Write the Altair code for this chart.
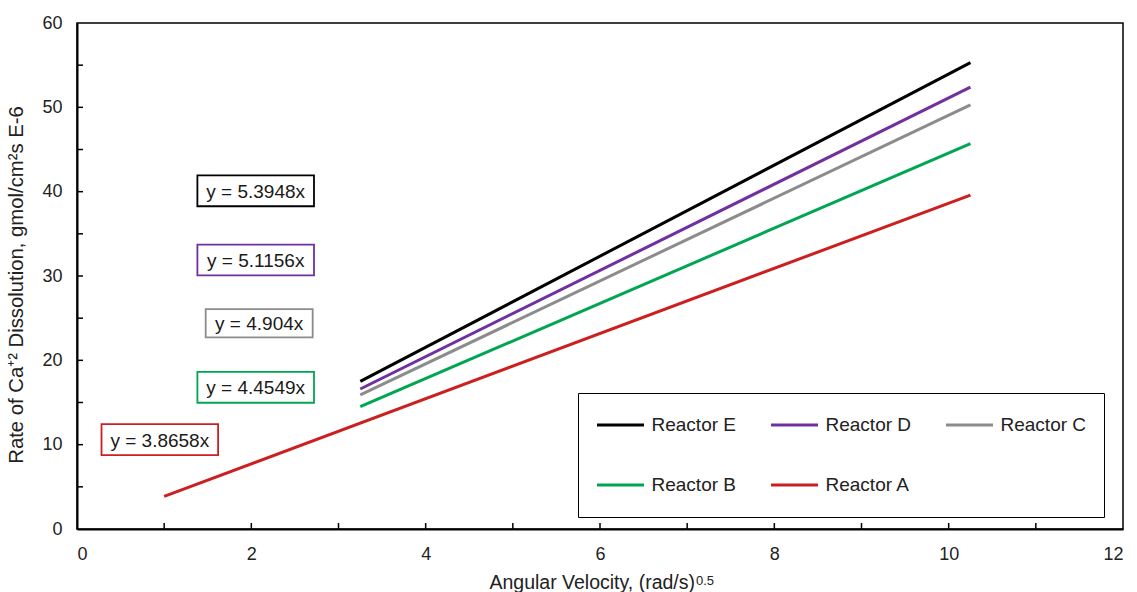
import altair as alt
import pandas as pd

FONT = "Liberation Sans"

# ---- data ----
reactors = ["Reactor E", "Reactor D", "Reactor C", "Reactor B", "Reactor A"]
colors = ["#000000", "#7030A0", "#8C8C8C", "#00A651", "#CC1F1F"]
x_start = [3.25, 3.25, 3.25, 3.25, 1.0]
x_end = [10.25, 10.25, 10.25, 10.25, 10.25]
y_start = [17.5, 16.6, 15.9, 14.5, 3.87]
y_end = [55.3, 52.4, 50.3, 45.7, 39.6]
equations = ["y = 5.3948x", "y = 5.1156x", "y = 4.904x", "y = 4.4549x", "y = 3.8658x"]
# anchor of each trendline-equation label (data units)
label_x = [2.05, 2.05, 2.09, 2.05, 0.95]
label_y = [40.1, 31.9, 24.4, 16.8, 10.6]
x_tick_values = [0, 2, 4, 6, 8, 10, 12]
x_minor = [1, 2, 3, 4, 5, 6, 7, 8, 9, 10, 11]
y_tick_values = [0, 10, 20, 30, 40, 50, 60]
y_minor = [5, 10, 15, 20, 25, 30, 35, 40, 45, 50, 55]
x_title = "Angular Velocity, (rad/s)"
x_title_sup = "0.5"
y_title = "Rate of Ca\u207a\u00b2 Dissolution, gmol/cm\u00b2s E-6"

W, H = 1046, 506

rows = []
for r, xs, xe, ys, ye in zip(reactors, x_start, x_end, y_start, y_end):
    rows.append({"reactor": r, "x": xs, "y": ys})
    rows.append({"reactor": r, "x": xe, "y": ye})
lines_df = pd.DataFrame(rows)

lab_df = pd.DataFrame({
    "reactor": reactors, "eq": equations, "x": label_x, "y": label_y,
    "color": colors,
    "size": [(9.6 * len(e) + 11) ** 2 for e in equations],
})

xs = alt.Scale(domain=[0, 12], nice=False, zero=False)
ys = alt.Scale(domain=[0, 60], nice=False, zero=False)

xaxis = alt.Axis(values=x_tick_values, format="d", ticks=False, tickSize=0, grid=False,
                 labelFontSize=18, labelPadding=16, labelColor="#222222",
                 labelFont=FONT, domainColor="black", domainWidth=2, title=None)
yaxis = alt.Axis(values=y_tick_values, format="d", ticks=False, tickSize=0, grid=False,
                 labelFontSize=18, labelPadding=15, labelColor="#222222",
                 labelFont=FONT, domainColor="black", domainWidth=2, title=None)

legend = alt.Legend(
    orient="none", legendX=501, legendY=370, columns=3, direction="horizontal", title=None,
    symbolType="stroke", symbolSize=2209, symbolStrokeWidth=3, clipHeight=29,
    labelFontSize=19, labelFont=FONT, labelColor="#222222", labelOffset=6,
    columnPadding=33, rowPadding=31, padding=17.5, symbolOffset=0,
    strokeColor="black",
)

lines = alt.Chart(lines_df).mark_line(strokeWidth=3).encode(
    x=alt.X("x:Q", scale=xs, axis=xaxis),
    y=alt.Y("y:Q", scale=ys, axis=yaxis),
    color=alt.Color("reactor:N", scale=alt.Scale(domain=reactors, range=colors),
                    legend=legend, sort=reactors),
    detail="reactor:N",
)

xt = alt.Chart(pd.DataFrame({"v": x_minor})).mark_rule(color="black", strokeWidth=1.5).encode(
    x=alt.X("v:Q", scale=xs), y=alt.value(H), y2=alt.value(H - 6))
yt = alt.Chart(pd.DataFrame({"v": y_minor})).mark_rule(color="black", strokeWidth=1.5).encode(
    y=alt.Y("v:Q", scale=ys), x=alt.value(0), x2=alt.value(6))

box_shape = "M-1,-0.265L1,-0.265L1,0.265L-1,0.265Z"
boxes = alt.Chart(lab_df).mark_point(shape=box_shape, filled=False, fill="white",
                                     fillOpacity=1, opacity=1, strokeWidth=1.8).encode(
    x=alt.X("x:Q", scale=xs), y=alt.Y("y:Q", scale=ys),
    stroke=alt.Stroke("color:N", scale=None),
    size=alt.Size("size:Q", scale=None),
)
texts = alt.Chart(lab_df).mark_text(fontSize=19, font=FONT, color="#1a1a1a",
                                    align="center", baseline="middle", dy=1).encode(
    x=alt.X("x:Q", scale=xs), y=alt.Y("y:Q", scale=ys), text="eq:N")

xtitle = alt.Chart(pd.DataFrame({"t": [x_title]})).mark_text(
    fontSize=19.5, font=FONT, color="#222222", align="right", baseline="alphabetic").encode(
    x=alt.value(618), y=alt.value(566), text="t:N")
xsup = alt.Chart(pd.DataFrame({"t": [x_title_sup]})).mark_text(
    fontSize=13, font=FONT, color="#222222", align="left", baseline="alphabetic").encode(
    x=alt.value(619), y=alt.value(562), text="t:N")
ytitle = alt.Chart(pd.DataFrame({"t": [y_title]})).mark_text(
    fontSize=20.3, font=FONT, color="#222222", align="center", baseline="middle", angle=270).encode(
    x=alt.value(-60), y=alt.value(262), text="t:N")

chart = alt.layer(lines, xt, yt, boxes, texts, xtitle, xsup, ytitle).properties(
    width=W, height=H,
    padding={"left": 77, "top": 23, "right": 14, "bottom": 63},
    autosize=alt.AutoSizeParams(type="none"),
).configure(font=FONT).configure_view(stroke="black", strokeWidth=1.5)

chart.save("out.html", embed_options={"renderer": "svg", "actions": False})
